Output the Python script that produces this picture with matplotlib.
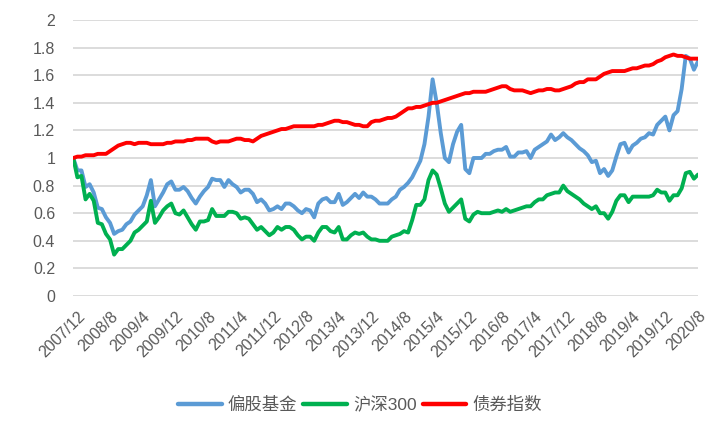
import matplotlib
matplotlib.use("Agg")
import matplotlib.pyplot as plt
import matplotlib.transforms as mtransforms
import numpy as np

plt.rcParams['font.family'] = ['Liberation Sans', 'Noto Sans CJK SC', 'DejaVu Sans']

start_year, start_month = 2007, 12

fund = [1.00, 0.91, 0.91, 0.79, 0.81, 0.75, 0.64, 0.63, 0.57, 0.53,
        0.45, 0.47, 0.48, 0.52, 0.54, 0.59, 0.62, 0.65, 0.73, 0.84,
        0.65, 0.70, 0.75, 0.81, 0.83, 0.77, 0.77, 0.79, 0.76, 0.71,
        0.67, 0.72, 0.76, 0.79, 0.85, 0.84, 0.84, 0.79, 0.84, 0.81,
        0.79, 0.75, 0.77, 0.77, 0.74, 0.68, 0.70, 0.67, 0.62, 0.63,
        0.65, 0.63, 0.67, 0.67, 0.65, 0.62, 0.60, 0.63, 0.62, 0.57,
        0.67, 0.70, 0.71, 0.68, 0.68, 0.74, 0.66, 0.68, 0.71, 0.74,
        0.71, 0.75, 0.72, 0.72, 0.70, 0.67, 0.67, 0.67, 0.70, 0.72,
        0.77, 0.79, 0.82, 0.86, 0.92, 0.98, 1.10, 1.30, 1.57, 1.40,
        1.18, 1.00, 0.97, 1.10, 1.19, 1.24, 0.92, 0.89, 1.00, 1.00,
        1.00, 1.03, 1.03, 1.05, 1.06, 1.06, 1.08, 1.01, 1.01, 1.04,
        1.04, 1.05, 1.00, 1.06, 1.08, 1.10, 1.12, 1.17, 1.13, 1.15,
        1.18, 1.15, 1.13, 1.10, 1.07, 1.05, 1.02, 0.97, 0.98, 0.89,
        0.92, 0.87, 0.91, 1.01, 1.10, 1.11, 1.04, 1.09, 1.11, 1.14,
        1.15, 1.18, 1.17, 1.24, 1.27, 1.30, 1.20, 1.31, 1.34, 1.50,
        1.74, 1.72, 1.64, 1.70]

hs300 = [1.00, 0.86, 0.87, 0.70, 0.74, 0.69, 0.53, 0.52, 0.45, 0.41,
         0.30, 0.34, 0.34, 0.37, 0.40, 0.46, 0.48, 0.51, 0.54, 0.69,
         0.53, 0.57, 0.62, 0.65, 0.67, 0.60, 0.59, 0.62, 0.57, 0.52,
         0.48, 0.54, 0.54, 0.55, 0.63, 0.58, 0.58, 0.58, 0.61, 0.61,
         0.60, 0.56, 0.57, 0.56, 0.52, 0.48, 0.50, 0.47, 0.44, 0.46,
         0.50, 0.48, 0.50, 0.50, 0.48, 0.44, 0.41, 0.43, 0.43, 0.40,
         0.46, 0.50, 0.50, 0.47, 0.46, 0.50, 0.41, 0.41, 0.44, 0.46,
         0.45, 0.46, 0.43, 0.41, 0.41, 0.40, 0.40, 0.40, 0.43, 0.44,
         0.45, 0.47, 0.46, 0.55, 0.66, 0.66, 0.70, 0.84, 0.91, 0.88,
         0.78, 0.67, 0.61, 0.64, 0.67, 0.70, 0.56, 0.54, 0.59, 0.61,
         0.60, 0.60, 0.60, 0.61, 0.62, 0.61, 0.63, 0.61, 0.62, 0.63,
         0.64, 0.65, 0.65, 0.68, 0.70, 0.70, 0.73, 0.74, 0.75, 0.75,
         0.80, 0.76, 0.74, 0.72, 0.70, 0.67, 0.65, 0.63, 0.65, 0.60,
         0.60, 0.56, 0.61, 0.69, 0.73, 0.73, 0.68, 0.72, 0.72, 0.72,
         0.72, 0.72, 0.73, 0.77, 0.75, 0.75, 0.69, 0.73, 0.73, 0.78,
         0.89, 0.90, 0.85, 0.88]

bond = [1.00, 1.01, 1.01, 1.02, 1.02, 1.02, 1.03, 1.03, 1.03, 1.05,
        1.07, 1.09, 1.10, 1.11, 1.11, 1.10, 1.11, 1.11, 1.11, 1.10,
        1.10, 1.10, 1.10, 1.11, 1.11, 1.12, 1.12, 1.12, 1.13, 1.13,
        1.14, 1.14, 1.14, 1.14, 1.12, 1.11, 1.12, 1.12, 1.12, 1.13,
        1.14, 1.14, 1.13, 1.13, 1.12, 1.14, 1.16, 1.17, 1.18, 1.19,
        1.20, 1.21, 1.21, 1.22, 1.23, 1.23, 1.23, 1.23, 1.23, 1.23,
        1.24, 1.24, 1.25, 1.26, 1.27, 1.27, 1.26, 1.26, 1.25, 1.24,
        1.24, 1.23, 1.23, 1.26, 1.27, 1.27, 1.28, 1.29, 1.29, 1.30,
        1.32, 1.34, 1.36, 1.36, 1.37, 1.37, 1.38, 1.39, 1.40, 1.40,
        1.41, 1.42, 1.43, 1.44, 1.45, 1.46, 1.47, 1.47, 1.48, 1.48,
        1.48, 1.48, 1.49, 1.50, 1.51, 1.52, 1.52, 1.50, 1.49, 1.49,
        1.49, 1.48, 1.47, 1.48, 1.49, 1.49, 1.50, 1.50, 1.49, 1.49,
        1.50, 1.51, 1.52, 1.54, 1.55, 1.55, 1.57, 1.57, 1.57, 1.59,
        1.61, 1.62, 1.63, 1.63, 1.63, 1.63, 1.64, 1.65, 1.65, 1.66,
        1.67, 1.67, 1.68, 1.70, 1.71, 1.73, 1.74, 1.75, 1.74, 1.74,
        1.73, 1.72, 1.72, 1.72]

series_names = ['偏股基金', '沪深300', '债券指数']
series_colors = ['#5B9BD5', '#00B050', '#FF0000']

n = len(fund)
months = []
y, m = start_year, start_month
for _ in range(n):
    months.append(f"{y}/{m}")
    m += 1
    if m > 12:
        m = 1
        y += 1

x = np.arange(n)
tick_idx = list(range(0, n, 8))
tick_labels = [months[i] for i in tick_idx]

fig = plt.figure(figsize=(7.2, 4.32), dpi=100)
ax = fig.add_axes([73.3 / 720, 1 - 296 / 432, (698 - 73.3) / 720, (296 - 20) / 432])

for data, name, color in zip([fund, hs300, bond], series_names, series_colors):
    ax.plot(x, data, color=color, lw=2.8, label=name, solid_joinstyle='round',
            solid_capstyle='round', zorder=3)

ax.set_xlim(0, n - 1)
ax.set_ylim(0, 2)
yticks = np.round(np.arange(0, 2.01, 0.2), 1)
ax.set_yticks(yticks)
ax.set_yticklabels([f"{v:g}" for v in yticks])
ax.yaxis.grid(True, color='#D9D9D9', lw=1.3)
ax.set_axisbelow(True)
for s in ax.spines.values():
    s.set_visible(False)
ax.tick_params(axis='y', length=0, pad=13, labelsize=11.5, labelcolor='#595959')
ax.tick_params(axis='x', length=0, pad=9, labelsize=11.5, labelcolor='#595959')
ax.set_xticks(tick_idx)
ax.set_xticklabels(tick_labels, rotation=45, ha='right', rotation_mode='anchor')
offset = mtransforms.ScaledTranslation(4 / 100, 0, fig.dpi_scale_trans)
for lbl in ax.get_xticklabels():
    lbl.set_transform(lbl.get_transform() + offset)

leg = ax.legend(loc='center', bbox_to_anchor=(360 / 720, 1 - 405 / 432),
                bbox_transform=fig.transFigure, ncol=3, frameon=False,
                fontsize=12.5, handlelength=2.5, handletextpad=0.35,
                columnspacing=0.35)
for t in leg.get_texts():
    t.set_color('#595959')
for h in leg.get_lines():
    h.set_linewidth(3.2)

fig.savefig('out.png', dpi=100)
